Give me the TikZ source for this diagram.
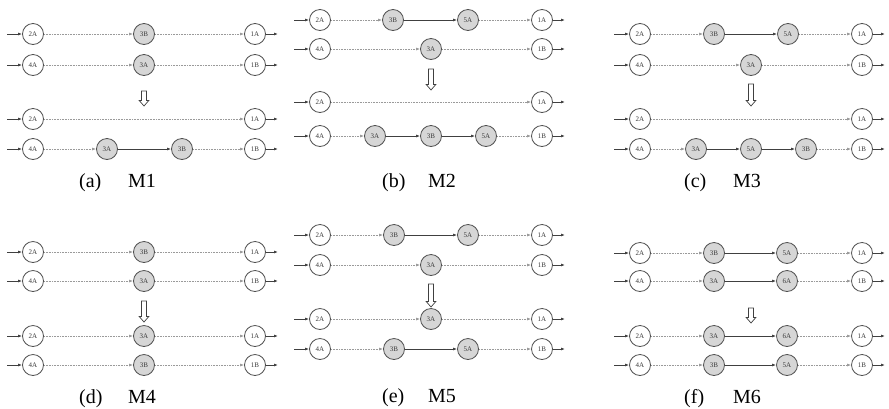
\documentclass[tikz,border=0pt]{standalone}
\usepackage{fontspec}
\setmainfont{Liberation Serif}
\usetikzlibrary{arrows.meta}

\definecolor{ringcol}{HTML}{505050}
\definecolor{corefill}{HTML}{D6D6D6}
\definecolor{labcol}{HTML}{3A3A3A}
\definecolor{dotcol}{HTML}{9A9A9A}
\definecolor{linkcol}{HTML}{404040}

\tikzset{
  station/.style={circle, draw=ringcol, line width=0.8pt, minimum size=21pt,
    inner sep=0pt, text=labcol, font=\fontsize{7}{7}\selectfont},
  endpt/.style={station, fill=white},
  core/.style={station, fill=corefill},
  tipstyle/.style={-{Latex[length=4pt,width=3pt]}},
  feed/.style={tipstyle, draw=linkcol, line width=0.8pt},
  idle/.style={tipstyle, draw=dotcol, line width=0.7pt, dash pattern=on 0.8pt off 0.8pt},
  link/.style={tipstyle, draw=linkcol, line width=0.9pt},
  hollow/.style={draw=linkcol, line width=0.7pt, fill=white},
  caption/.style={anchor=base west, inner sep=0pt, font=\fontsize{20}{24}\selectfont}
}

% one lane with its two end stations; #1 name, #2 x of left station, #3 y,
% #4 left label, #5 right label
\newcommand\laneends[5]{%
  \coordinate (#1-in) at (#2-26,#3);
  \node[endpt] (#1-L) at (#2,#3) {#4};
  \node[endpt] (#1-R) at (#2+222,#3) {#5};
  \coordinate (#1-out) at (#2+245,#3);
  \draw[feed] (#1-in) -- (#1-L);
  \draw[feed] (#1-R) -- (#1-out);
}
% lane without shaded stations
\newcommand\plainlane[5]{%
  \laneends{#1}{#2}{#3}{#4}{#5}
  \draw[idle] (#1-L) -- (#1-R);
}
% lane with shaded stations listed as offset/label pairs in #6
\newcommand\corelane[6]{%
  \laneends{#1}{#2}{#3}{#4}{#5}
  \foreach \dx/\lab [count=\i, remember=\i as \j (initially 0)] in {#6} {
    \node[core] (#1-\i) at (#2+\dx,#3) {\lab};
    \ifnum\j=0
      \draw[idle] (#1-L) -- (#1-\i);
    \else
      \draw[link] (#1-\j) -- (#1-\i);
    \fi
    \xdef\lastcore{\i}
  }
  \draw[idle] (#1-\lastcore) -- (#1-R);
}
% hollow downward arrow: #1 x, #2 top y, #3 tip y
\newcommand\hollowdown[3]{%
  \draw[hollow] (#1-2.5,#2) -- (#1-2.5,#3-5.5) -- (#1-4.8,#3-5.5) -- (#1,#3)
    -- (#1+4.8,#3-5.5) -- (#1+2.5,#3-5.5) -- (#1+2.5,#2) -- cycle;
}

\begin{document}
\begin{tikzpicture}[x=1pt,y=-1pt]
\useasboundingbox (0,0) rectangle (889,408);

% (a) M1
\corelane{a1}{33}{34}{2A}{1A}{111/3B}
\corelane{a2}{33}{65}{4A}{1B}{111/3A}
\hollowdown{144}{91}{106}
\plainlane{a3}{33}{119}{2A}{1A}
\corelane{a4}{33}{149}{4A}{1B}{74/3A,149/3B}
\node[caption] (capa) at (79,187) {(a)};
\node[caption] (capam) at (128,187) {M1};

% (b) M2
\corelane{b1}{320}{20}{2A}{1A}{73/3B,148/5A}
\corelane{b2}{320}{49}{4A}{1B}{111/3A}
\hollowdown{431}{69}{90}
\plainlane{b3}{320}{102}{2A}{1A}
\corelane{b4}{320}{136}{4A}{1B}{55/3A,111/3B,166/5A}
\node[caption] (capb) at (382,187) {(b)};
\node[caption] (capbm) at (428,187) {M2};

% (c) M3
\corelane{c1}{640}{34}{2A}{1A}{74/3B,148/5A}
\corelane{c2}{640}{65}{4A}{1B}{111/3A}
\hollowdown{751}{84}{106}
\plainlane{c3}{640}{119}{2A}{1A}
\corelane{c4}{640}{149}{4A}{1B}{56/3A,111/5A,166/3B}
\node[caption] (capc) at (684,187) {(c)};
\node[caption] (capcm) at (733,187) {M3};

% (d) M4
\corelane{d1}{33}{252}{2A}{1A}{111/3B}
\corelane{d2}{33}{281}{4A}{1B}{111/3A}
\hollowdown{144}{301}{322}
\corelane{d3}{33}{336}{2A}{1A}{111/3A}
\corelane{d4}{33}{365}{4A}{1B}{111/3B}
\node[caption] (capd) at (79,403) {(d)};
\node[caption] (capdm) at (128,403) {M4};

% (e) M5
\corelane{e1}{320}{235}{2A}{1A}{74/3B,148/5A}
\corelane{e2}{320}{265}{4A}{1B}{111/3A}
\hollowdown{431}{284}{307}
\corelane{e3}{320}{319}{2A}{1A}{111/3A}
\corelane{e4}{320}{349}{4A}{1B}{74/3B,148/5A}
\node[caption] (cape) at (382,402) {(e)};
\node[caption] (capem) at (428,402) {M5};

% (f) M6
\corelane{f1}{640}{253}{2A}{1A}{74/3B,147/5A}
\corelane{f2}{640}{281}{4A}{1B}{74/3A,147/6A}
\hollowdown{751}{308}{323}
\corelane{f3}{640}{336}{2A}{1A}{74/3A,147/6A}
\corelane{f4}{640}{365}{4A}{1B}{74/3B,147/5A}
\node[caption] (capf) at (684,403) {(f)};
\node[caption] (capfm) at (733,403) {M6};
\end{tikzpicture}
\end{document}
